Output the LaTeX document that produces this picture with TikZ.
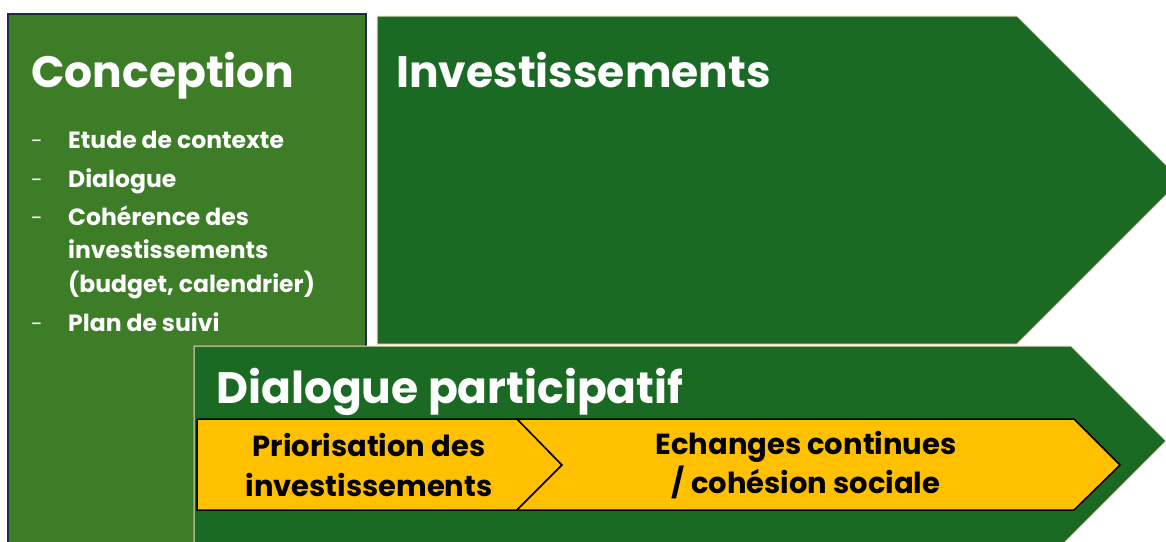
\documentclass[tikz,border=0pt]{standalone}
\usepackage{fontspec}
\newfontfamily\popfont{Poppins}
\definecolor{concgreen}{HTML}{3E7D28}
\definecolor{darkgreen}{HTML}{1B6A24}
\definecolor{prioyellow}{HTML}{FFC000}
\definecolor{navyline}{HTML}{1F2A44}
\definecolor{glow}{HTML}{F2DCC4}
\tikzset{
panel/.style={fill=darkgreen, draw=glow, line width=1pt},
chevron/.style={fill=prioyellow, draw=black, line width=1.5pt, line join=miter},
heading/.style={text=white, anchor=base west, inner sep=0pt,
  font=\popfont\bfseries\fontsize{44}{44}\selectfont},
item/.style={text=white, anchor=base west, inner sep=0pt, align=left,
  font=\popfont\bfseries\fontsize{23.5}{33.5}\selectfont},
bullet/.style={item, font=\popfont\fontsize{21}{33.5}\selectfont},
steptext/.style={text=black, align=center, inner sep=0pt,
  font=\popfont\bfseries\fontsize{29}{39.5}\selectfont}
}
\begin{document}
\begin{tikzpicture}[x=1pt, y=-1pt]
\useasboundingbox (0,0) rectangle (1166,541);
\clip (0,0) rectangle (1166,541);
\fill[white] (0,0) rectangle (1166,541);
% left box
\draw[fill=concgreen, draw=navyline, line width=1.2pt] (8,14) rectangle (366,560);
% upper arrow
\draw[panel] (377,16) -- (1017,16) -- (1181,180) -- (1017,344) -- (377,344) -- cycle;
% lower arrow
\draw[panel] (194,346) -- (1071,346) -- (1166,441) -- (1047,560) -- (194,560) -- cycle;
% yellow steps
\draw[chevron] (197,419) -- (517,419) -- (562,465) -- (517,510) -- (197,510) -- cycle;
\draw[chevron] (517,419) -- (1074,419) -- (1120,465) -- (1074,510) -- (517,510) -- (562,465) -- cycle;
% texts
\node[heading] (conc) at (31,87) {Conception};
\node[heading] (inv) at (396,87) {Investissements};
\node[heading] (dial) at (216,403) {Dialogue participatif};
\node[bullet] (d1) at (31,148) {-};
\node[item] (i1) at (68,148) {Etude de contexte};
\node[bullet] (d2) at (31,187) {-};
\node[item] (i2) at (68,187) {Dialogue};
\node[bullet] (d3) at (31,225) {-};
\node[item] (i3) at (68,292) {Cohérence des\\investissements\\(budget, calendrier)};
\node[bullet] (d4) at (31,331) {-};
\node[item] (i4) at (68,331) {Plan de suivi};
\node[steptext] (prio) at (369,465) {Priorisation des\\investissements};
\node[steptext] (ech) at (806,465) {Echanges continues\\/ cohésion sociale};
\end{tikzpicture}
\end{document}
